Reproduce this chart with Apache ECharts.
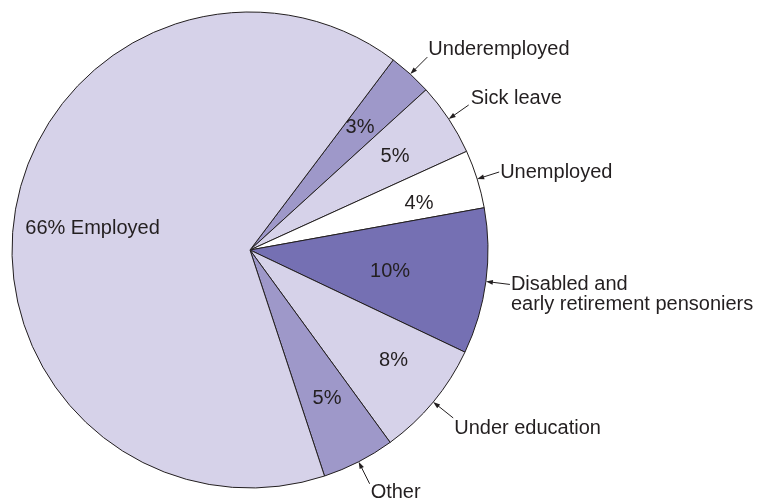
<!DOCTYPE html>
<html>
<head>
<meta charset="utf-8">
<script src="https://cdn.jsdelivr.net/npm/echarts@6/dist/echarts.min.js"></script>
<style>
  html, body { margin: 0; padding: 0; background: #ffffff; }
  #chart { width: 757px; height: 499px; }
</style>
</head>
<body>
<div id="chart"></div>
<script>
// Slices, clockwise from the Underemployed wedge
const sliceNames = ['Underemployed', 'Sick leave', 'Unemployed',
  'Disabled and\nearly retirement pensoniers', 'Under education', 'Other', 'Employed'];
const sliceShares = [3, 5, 4, 10, 8, 5, 66];
const sliceColors = ['#9e98c9', '#d6d2e9', '#ffffff', '#7570b3', '#d6d2e9', '#9e98c9', '#d6d2e9'];

// Layout
const CX = 250, CY = 250, R = 238;
const START_ANGLE = 53;              // ECharts degrees (counter-clockwise from east)
const TEXT_COLOR = '#231f20';
const FONT = '20px "Liberation Sans", Arial, sans-serif';
// value labels: radial position (fraction of radius) and angular nudge (degrees)
const innerLabelRadius = [0.692, 0.724, 0.736, 0.595, 0.760, 0.703, 0.668];
const innerLabelNudge = [-0.45, 0.7, 2.1, 0.95, -2.2, -0.25, -1.45];
// callout leaders: offset of line end from the rim, and text offset from line end
const calloutLeader = [[17, -17], [20, -14], [22, -7], [24, 3], [20, 16], [11, 22], null];
const calloutText = [[1, -8], [2, -7], [1, 0], [1, 10], [1, 10.5], [1, 9], null];

const total = sliceShares.reduce((a, b) => a + b, 0);
// mid angle of each slice, clockwise from north, in degrees
const midAngles = [];
{
  let acc = 0;
  const north0 = 90 - START_ANGLE;
  sliceShares.forEach(v => {
    midAngles.push(north0 + (acc + v / 2) / total * 360);
    acc += v;
  });
}
const polar = (deg, r) => {
  const a = deg * Math.PI / 180;
  return [CX + r * Math.sin(a), CY - r * Math.cos(a)];
};

const chart = echarts.init(document.getElementById('chart'), null, { renderer: 'canvas' });

const callouts = [];
sliceNames.forEach((name, i) => {
  if (!calloutLeader[i]) return;
  const tip = polar(midAngles[i], R);
  const end = [tip[0] + calloutLeader[i][0], tip[1] + calloutLeader[i][1]];
  const len = Math.hypot(end[0] - tip[0], end[1] - tip[1]);
  const ux = (tip[0] - end[0]) / len, uy = (tip[1] - end[1]) / len;
  const nx = -uy, ny = ux;
  const L = 7, W = 2.4;
  callouts.push({
    type: 'line', silent: true,
    shape: { x1: end[0], y1: end[1], x2: tip[0] - ux * 3, y2: tip[1] - uy * 3 },
    style: { stroke: TEXT_COLOR, lineWidth: 1 }
  });
  callouts.push({
    type: 'polygon', silent: true,
    shape: { points: [
      tip,
      [tip[0] - ux * L + nx * W, tip[1] - uy * L + ny * W],
      [tip[0] - ux * L - nx * W, tip[1] - uy * L - ny * W]
    ] },
    style: { fill: TEXT_COLOR }
  });
  callouts.push({
    type: 'text', silent: true,
    x: end[0] + calloutText[i][0], y: end[1] + calloutText[i][1],
    style: {
      text: name, font: FONT, fill: TEXT_COLOR,
      align: 'left', verticalAlign: 'middle', lineHeight: 20
    }
  });
});

chart.setOption({
  backgroundColor: '#ffffff',
  animation: false,
  series: [{
    type: 'pie',
    center: [CX, CY],
    radius: R,
    startAngle: START_ANGLE,
    clockwise: true,
    avoidLabelOverlap: false,
    silent: true,
    itemStyle: { borderColor: TEXT_COLOR, borderWidth: 1 },
    label: {
      show: true,
      position: 'inside',
      color: TEXT_COLOR,
      fontFamily: '"Liberation Sans", Arial, sans-serif',
      fontSize: 20,
      formatter: p => p.dataIndex === sliceNames.length - 1
        ? p.value + '% ' + p.name
        : p.value + '%'
    },
    labelLine: { show: false },
    labelLayout: p => {
      const i = p.dataIndex;
      const pt = polar(midAngles[i] + innerLabelNudge[i], R * innerLabelRadius[i]);
      return { x: pt[0], y: pt[1], align: 'center', verticalAlign: 'middle' };
    },
    data: sliceNames.map((n, i) => ({
      name: n, value: sliceShares[i], itemStyle: { color: sliceColors[i] }
    }))
  }],
  graphic: callouts
});
</script>
</body>
</html>
